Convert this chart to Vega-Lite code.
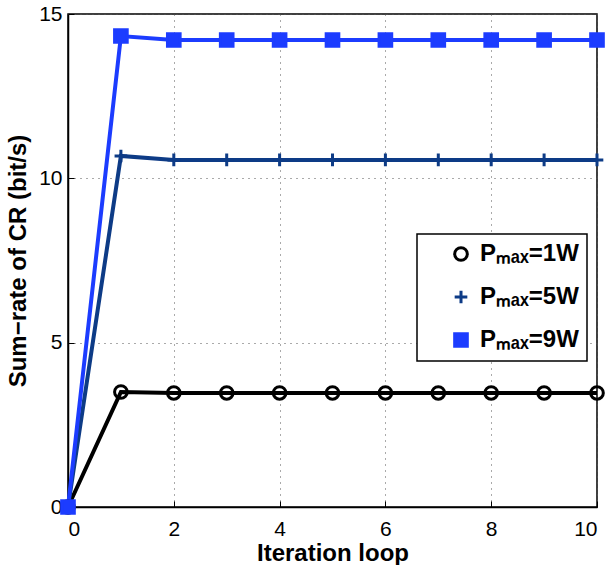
{
  "$schema": "https://vega.github.io/schema/vega-lite/v6.json",
  "autosize": "none",
  "width": 529,
  "height": 493,
  "padding": {"left": 68, "top": 14, "right": 12, "bottom": 58},
  "background": "white",
  "config": {
    "font": "Liberation Sans",
    "view": {"stroke": "black", "strokeWidth": 1.5},
    "axis": {
      "labelFont": "Liberation Sans",
      "labelFontSize": 21,
      "labelColor": "black",
      "titleFont": "Liberation Sans",
      "titleFontSize": 24,
      "titleFontWeight": "bold",
      "titleColor": "black",
      "domainColor": "black",
      "domainWidth": 1.5,
      "tickColor": "black",
      "tickSize": -6,
      "gridColor": "#555555",
      "gridDash": [1, 5],
      "gridWidth": 1
    },
    "legend": {
      "orient": "none",
      "legendX": 349,
      "legendY": 220,
      "fillColor": "white",
      "strokeColor": "black",
      "strokeWidth": 1.5,
      "padding": 8,
      "labelFont": "Liberation Sans",
      "labelFontSize": 24,
      "labelFontWeight": "bold",
      "labelColor": "black",
      "symbolSize": 160,
      "symbolStrokeWidth": 3,
      "symbolOffset": 24,
      "labelOffset": 7,
      "rowPadding": 17,
      "titleFontSize": 1
    }
  },
  "data": {
    "values": [
      {"x": 0, "y": 0, "s": "Pₘₐₓ=1W"}, {"x": 1, "y": 3.5, "s": "Pₘₐₓ=1W"}, {"x": 2, "y": 3.47, "s": "Pₘₐₓ=1W"}, {"x": 3, "y": 3.47, "s": "Pₘₐₓ=1W"}, {"x": 4, "y": 3.47, "s": "Pₘₐₓ=1W"}, {"x": 5, "y": 3.47, "s": "Pₘₐₓ=1W"}, {"x": 6, "y": 3.47, "s": "Pₘₐₓ=1W"}, {"x": 7, "y": 3.47, "s": "Pₘₐₓ=1W"}, {"x": 8, "y": 3.47, "s": "Pₘₐₓ=1W"}, {"x": 9, "y": 3.47, "s": "Pₘₐₓ=1W"}, {"x": 10, "y": 3.47, "s": "Pₘₐₓ=1W"},
      {"x": 0, "y": 0, "s": "Pₘₐₓ=5W"}, {"x": 1, "y": 10.68, "s": "Pₘₐₓ=5W"}, {"x": 2, "y": 10.56, "s": "Pₘₐₓ=5W"}, {"x": 3, "y": 10.56, "s": "Pₘₐₓ=5W"}, {"x": 4, "y": 10.56, "s": "Pₘₐₓ=5W"}, {"x": 5, "y": 10.56, "s": "Pₘₐₓ=5W"}, {"x": 6, "y": 10.56, "s": "Pₘₐₓ=5W"}, {"x": 7, "y": 10.56, "s": "Pₘₐₓ=5W"}, {"x": 8, "y": 10.56, "s": "Pₘₐₓ=5W"}, {"x": 9, "y": 10.56, "s": "Pₘₐₓ=5W"}, {"x": 10, "y": 10.56, "s": "Pₘₐₓ=5W"},
      {"x": 0, "y": 0, "s": "Pₘₐₓ=9W"}, {"x": 1, "y": 14.33, "s": "Pₘₐₓ=9W"}, {"x": 2, "y": 14.21, "s": "Pₘₐₓ=9W"}, {"x": 3, "y": 14.21, "s": "Pₘₐₓ=9W"}, {"x": 4, "y": 14.21, "s": "Pₘₐₓ=9W"}, {"x": 5, "y": 14.21, "s": "Pₘₐₓ=9W"}, {"x": 6, "y": 14.21, "s": "Pₘₐₓ=9W"}, {"x": 7, "y": 14.21, "s": "Pₘₐₓ=9W"}, {"x": 8, "y": 14.21, "s": "Pₘₐₓ=9W"}, {"x": 9, "y": 14.21, "s": "Pₘₐₓ=9W"}, {"x": 10, "y": 14.21, "s": "Pₘₐₓ=9W"}
    ]
  },
  "encoding": {
    "x": {
      "field": "x", "type": "quantitative",
      "scale": {"domain": [0, 10], "nice": false},
      "axis": {"values": [0, 2, 4, 6, 8, 10], "title": "Iteration loop", "titlePadding": 2, "labelPadding": 17}
    },
    "y": {
      "field": "y", "type": "quantitative",
      "scale": {"domain": [0, 15], "nice": false},
      "axis": {"values": [0, 5, 10, 15], "title": "Sum−rate of CR (bit/s)", "titlePadding": 8, "labelPadding": 12}
    }
  },
  "layer": [
    {
      "mark": {"type": "line", "strokeWidth": 4},
      "encoding": {
        "stroke": {
          "field": "s", "type": "nominal", "title": null,
          "scale": {"domain": ["Pₘₐₓ=1W", "Pₘₐₓ=5W", "Pₘₐₓ=9W"], "range": ["#000000", "#0d3b86", "#1c3cff"]},
          "legend": {"encode": {"symbols": {"update": {"shape": {"signal": "datum.value == 'Pₘₐₓ=1W' ? 'M-3.6,0L-1,0M1,0L3.6,0M1,0A1,1,0,1,1,-1,0A1,1,0,1,1,1,0M0.35,0L-0.35,0' : datum.value == 'Pₘₐₓ=5W' ? 'M-3.6,0L3.6,0M0,-1L0,1' : 'M-3.6,0L3.6,0M-1,-1L1,-1L1,1L-1,1Z'"}}}}}
        }
      }
    },
    {
      "mark": {"type": "point", "filled": false, "strokeWidth": 3, "size": 160, "opacity": 1},
      "encoding": {
        "stroke": {
          "field": "s", "type": "nominal", "title": null,
          "scale": {"domain": ["Pₘₐₓ=1W", "Pₘₐₓ=5W", "Pₘₐₓ=9W"], "range": ["#000000", "#0d3b86", "#1c3cff"]},
          "legend": {"encode": {"symbols": {"update": {"shape": {"signal": "datum.value == 'Pₘₐₓ=1W' ? 'M-3.6,0L-1,0M1,0L3.6,0M1,0A1,1,0,1,1,-1,0A1,1,0,1,1,1,0M0.35,0L-0.35,0' : datum.value == 'Pₘₐₓ=5W' ? 'M-3.6,0L3.6,0M0,-1L0,1' : 'M-3.6,0L3.6,0M-1,-1L1,-1L1,1L-1,1Z'"}}}}}
        },
        "fill": {
          "field": "s", "type": "nominal", "title": null,
          "scale": {"domain": ["Pₘₐₓ=1W", "Pₘₐₓ=5W", "Pₘₐₓ=9W"], "range": ["rgba(0,0,0,0)", "#0d3b86", "#1c3cff"]},
          "legend": {"encode": {"symbols": {"update": {"shape": {"signal": "datum.value == 'Pₘₐₓ=1W' ? 'M-3.6,0L-1,0M1,0L3.6,0M1,0A1,1,0,1,1,-1,0A1,1,0,1,1,1,0M0.35,0L-0.35,0' : datum.value == 'Pₘₐₓ=5W' ? 'M-3.6,0L3.6,0M0,-1L0,1' : 'M-3.6,0L3.6,0M-1,-1L1,-1L1,1L-1,1Z'"}}}}}
        },
        "shape": {
          "field": "s", "type": "nominal", "title": null,
          "scale": {"domain": ["Pₘₐₓ=1W", "Pₘₐₓ=5W", "Pₘₐₓ=9W"], "range": ["circle", "M-1,0L1,0M0,-1L0,1", "square"]},
          "legend": {"encode": {"symbols": {"update": {"shape": {"signal": "datum.value == 'Pₘₐₓ=1W' ? 'M-3.6,0L-1,0M1,0L3.6,0M1,0A1,1,0,1,1,-1,0A1,1,0,1,1,1,0M0.35,0L-0.35,0' : datum.value == 'Pₘₐₓ=5W' ? 'M-3.6,0L3.6,0M0,-1L0,1' : 'M-3.6,0L3.6,0M-1,-1L1,-1L1,1L-1,1Z'"}}}}}
        }
      }
    }
  ]
}
